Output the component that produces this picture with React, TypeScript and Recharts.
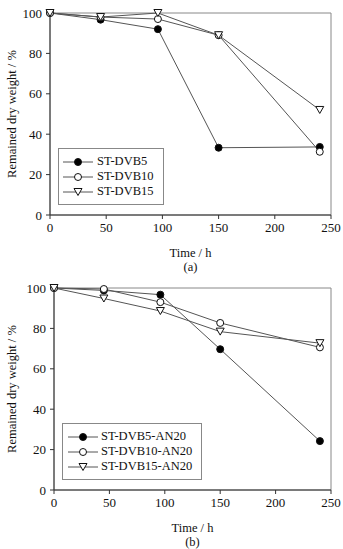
import React from "react";
import { LineChart, Line, XAxis, YAxis, Legend, ReferenceArea } from "recharts";

const TIME = [0, 45, 96, 150, 240];
const X_TICKS = [0, 50, 100, 150, 200, 250];
const Y_TICKS = [0, 20, 40, 60, 80, 100];

// (a) crosslinked ST-DVB series
const DVB5 = [100, 96.7, 92, 33.3, 33.7];
const DVB10 = [100, 98, 97, 89, 31.3];
const DVB15 = [100, 98, 100, 89, 52];

// (b) the same with 20% AN
const DVB5_AN20 = [100, 98.8, 96.7, 69.7, 24.2];
const DVB10_AN20 = [100, 99.5, 93, 82.7, 70.6];
const DVB15_AN20 = [100, 94.8, 88.6, 78.4, 72.7];

const FONT = '"Liberation Serif", "Times New Roman", serif';
const LINE = "#555";

type Marker = "filled" | "open" | "triangle";
type Series = { key: string; label: string; marker: Marker; values: number[] };

const SERIES_A: Series[] = [
  { key: "dvb5", label: "ST-DVB5", marker: "filled", values: DVB5 },
  { key: "dvb10", label: "ST-DVB10", marker: "open", values: DVB10 },
  { key: "dvb15", label: "ST-DVB15", marker: "triangle", values: DVB15 },
];

const SERIES_B: Series[] = [
  { key: "dvb5", label: "ST-DVB5-AN20", marker: "filled", values: DVB5_AN20 },
  { key: "dvb10", label: "ST-DVB10-AN20", marker: "open", values: DVB10_AN20 },
  { key: "dvb15", label: "ST-DVB15-AN20", marker: "triangle", values: DVB15_AN20 },
];

function toRows(series: Series[]) {
  return TIME.map((t, i) => {
    const row: Record<string, number> = { t };
    series.forEach((s) => (row[s.key] = s.values[i]));
    return row;
  });
}

function MarkerShape({ kind, cx, cy }: { kind: Marker; cx: number; cy: number }) {
  if (kind === "triangle") {
    const pts = `${cx - 4},${cy - 3.5} ${cx + 4},${cy - 3.5} ${cx},${cy + 3.5}`;
    return <polygon points={pts} fill="#fff" stroke="#111" strokeWidth={1} />;
  }
  return (
    <circle
      cx={cx}
      cy={cy}
      r={3.5}
      fill={kind === "filled" ? "#000" : "#fff"}
      stroke="#111"
      strokeWidth={1}
    />
  );
}

function LegendBox({ series, width, inset }: { series: Series[]; width: number; inset: number }) {
  return (
    <div
      style={{
        width,
        border: "1px solid #888",
        background: "#fff",
        padding: "5px 0 5px 0",
        fontFamily: FONT,
        fontSize: 12.5,
        color: "#111",
        boxSizing: "border-box",
        whiteSpace: "nowrap",
      }}
    >
      {series.map((s) => (
        <div key={s.key} style={{ display: "flex", alignItems: "center", height: 15 }}>
          <svg width={30} height={12} style={{ marginLeft: inset, marginRight: 37 - 30 - inset + 1, flexShrink: 0 }}>
            <line x1={0} y1={6} x2={30} y2={6} stroke={LINE} strokeWidth={1} />
            <MarkerShape kind={s.marker} cx={15} cy={6} />
          </svg>
          <span>{s.label}</span>
        </div>
      ))}
    </div>
  );
}

type PanelProps = {
  series: Series[];
  caption: string;
  height: number;
  axisWidth: number;
  legendLeft: number;
  legendWidth: number;
  legendInset: number;
};

function Panel({ series, caption, height, axisWidth, legendLeft, legendWidth, legendInset }: PanelProps) {
  const data = toRows(series);
  const xAxisHeight = height - 13 - 202;
  const tickStyle = { fontSize: 13, fill: "#111", fontFamily: FONT };

  return (
    <LineChart
      width={343}
      height={height}
      data={data}
      margin={{ top: 13, right: 12, left: 0, bottom: 0 }}
      style={{ fontFamily: FONT }}
    >
      <ReferenceArea
        x1={0}
        x2={250}
        y1={0}
        y2={100}
        fill="none"
        stroke="#888"
        strokeWidth={1}
        ifOverflow="visible"
      />
      <XAxis
        dataKey="t"
        type="number"
        domain={[0, 250]}
        ticks={X_TICKS}
        height={xAxisHeight}
        tick={tickStyle}
        tickSize={4}
        tickMargin={4}
        stroke="#333"
        label={(props: any) => {
          const vb = props.viewBox;
          const cx = vb.x + vb.width / 2;
          return (
            <g fontFamily={FONT} fill="#111" textAnchor="middle">
              <text x={cx} y={vb.y + 42} fontSize={12.5}>Time / h</text>
              <text x={cx} y={vb.y + 56} fontSize={12.5}>{caption}</text>
            </g>
          );
        }}
      />
      <YAxis
        type="number"
        domain={[0, 100]}
        ticks={Y_TICKS}
        width={axisWidth}
        tick={tickStyle}
        tickSize={4}
        tickMargin={4}
        stroke="#333"
        label={(props: any) => {
          const vb = props.viewBox;
          const cy = vb.y + vb.height / 2;
          return (
            <text
              x={12}
              y={cy}
              transform={`rotate(-90 12 ${cy})`}
              textAnchor="middle"
              dominantBaseline="central"
              fontFamily={FONT}
              fontSize={12.5}
              fill="#111"
            >
              Remained dry weight / %
            </text>
          );
        }}
      />
      <Legend
        layout="horizontal"
        align="center"
        verticalAlign="middle"
        wrapperStyle={{ left: legendLeft, top: 148, width: legendWidth }}
        content={() => <LegendBox series={series} width={legendWidth} inset={legendInset} />}
      />
      {series.map((s) => (
        <Line
          key={s.key}
          dataKey={s.key}
          name={s.label}
          type="linear"
          stroke={LINE}
          strokeWidth={1}
          isAnimationActive={false}
          dot={(p: any) => <MarkerShape key={`${s.key}-${p.index}`} kind={s.marker} cx={p.cx} cy={p.cy} />}
          activeDot={false}
        />
      ))}
    </LineChart>
  );
}

export default function App() {
  return (
    <div style={{ position: "absolute", left: 0, top: 0, width: 343, height: 549, background: "#fff" }}>
      <Panel series={SERIES_A} caption="(a)" height={275} axisWidth={50} legendLeft={58} legendWidth={106} legendInset={4} />
      <Panel series={SERIES_B} caption="(b)" height={274} axisWidth={54} legendLeft={62} legendWidth={140} legendInset={5} />
    </div>
  );
}
